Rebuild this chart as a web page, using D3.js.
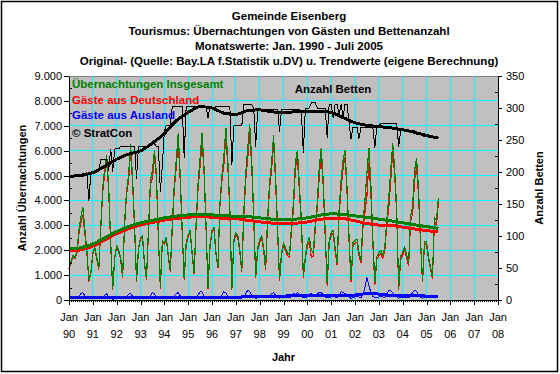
<!DOCTYPE html>
<html>
<head>
<meta charset="utf-8">
<script src="https://cdn.jsdelivr.net/npm/d3@7"></script>
<style>
  body { margin: 0; background: #fff; }
  svg { display: block; font-family: "Liberation Sans", Arial, sans-serif; }
</style>
</head>
<body>
<svg id="chart"></svg>
<script>
// Monatswerte Jan 1990 - Jul 2005 (eine Zeile pro Jahr)
var insgesamt = [
  1300,1550,1800,1700,1950,2800,3350,3700,2800,2000,800,1100,
  1900,2100,1700,1250,2950,4500,5300,5800,4500,2300,450,1700,
  2200,2000,1700,950,3100,4400,5000,6250,4900,3000,800,2100,
  2500,2600,1500,850,2800,4800,5200,6000,5100,2600,500,2400,
  2300,2500,1800,1200,3000,4600,5600,6700,5000,2800,850,2300,
  2600,2800,1900,1100,3100,4700,5700,6700,5300,3000,500,2200,
  2800,2900,1900,1350,3900,5000,5800,6900,5500,3650,450,2400,
  2700,2600,2000,1200,3500,5100,6100,7050,5600,3400,950,2100,
  2400,2600,2100,1300,3300,4700,5500,6600,5000,2900,850,1900,
  2300,2100,1900,1800,2900,3900,5550,6000,4600,3200,1000,1750,
  2300,2500,2000,1900,3000,3900,5300,6100,4800,2700,650,2400,
  2700,2800,2100,1500,3600,4800,5600,6000,4500,2500,800,2300,
  2400,2450,1900,1600,3100,4000,5100,6100,4600,2400,700,1750,
  1900,2000,1800,2100,3200,4100,5200,6300,5200,3600,480,1750,
  1900,2150,1800,1480,3350,3750,5200,5700,4400,2400,800,2350,
  2350,1750,1350,950,3300,3200,4100
];

var deutschland = [
  1250,1490,1740,1650,1880,2680,3100,3400,2650,1920,760,1050,
  1850,2040,1640,1210,2880,4380,5100,5550,4370,2230,420,1650,
  2140,1930,1640,910,3020,4270,4780,5970,4750,2920,760,2040,
  2440,2530,1440,810,2710,4650,4900,5760,4960,2520,460,2340,
  2240,2430,1740,1150,2910,4450,5350,6400,4840,2720,810,2240,
  2530,2720,1830,1050,3000,4500,5370,6380,5130,2910,460,2130,
  2730,2820,1830,1300,3800,4800,5470,6620,5350,3560,410,2330,
  2620,2510,1920,1140,3350,4850,5700,6700,5400,3290,890,2010,
  2300,2490,2000,1220,3180,4520,5250,6310,4800,2780,780,1800,
  2190,1980,1790,1710,2750,3620,5350,5700,4380,3070,920,1640,
  2180,2360,1720,1770,2850,3680,4980,5800,4600,2580,570,2290,
  2580,2670,1980,1410,3440,4470,5300,5750,4320,2390,730,2200,
  2280,2320,1780,1500,2900,3500,4200,5520,4300,2250,610,1630,
  1780,1870,1680,2000,3020,3700,4820,6000,5000,3480,410,1650,
  1790,2030,1690,1390,3190,3450,4800,5350,4200,2290,730,2250,
  2250,1640,1250,860,3170,3000,3920
];

var ausland = [
  50,60,60,50,70,120,250,300,150,80,40,50,
  50,60,60,40,70,120,200,250,130,70,30,50,
  60,70,60,40,80,130,220,280,150,80,40,60,
  60,70,60,40,90,150,300,240,140,80,40,60,
  60,70,60,50,90,150,250,300,160,80,40,60,
  70,80,70,50,100,200,330,320,170,90,40,70,
  70,80,70,50,100,200,330,280,150,90,40,70,
  80,90,80,60,150,250,400,350,200,110,60,90,
  100,110,100,80,120,180,250,290,200,120,70,100,
  110,120,110,90,150,280,200,300,220,130,80,110,
  120,140,280,130,150,220,320,300,200,120,80,110,
  120,130,120,90,160,330,300,250,180,110,70,100,
  120,130,120,100,200,500,900,580,300,150,90,120,
  120,130,120,100,180,400,380,300,200,120,70,100,
  110,120,110,90,160,300,400,350,200,110,70,100,
  100,110,100,90,130,200,180
];

var betten = [
  193,193,193,193,193,193,193,193,196,199,155,199,
  199,199,201,203,219,219,219,219,203,236,200,236,
  236,236,240,240,240,240,240,240,240,240,190,240,
  240,240,240,240,240,244,244,244,240,240,170,210,
  263,273,273,273,302,303,303,303,303,303,222,303,
  303,303,303,303,303,303,303,303,303,303,284,303,
  300,300,302,303,303,303,303,303,303,303,212,272,
  272,272,272,272,306,306,306,306,306,300,240,298,
  298,298,298,298,298,298,298,298,298,298,264,298,
  297,297,297,297,297,297,297,297,297,294,230,300,
  300,300,308,308,308,300,300,300,300,300,254,306,
  306,285,306,306,288,306,287,306,306,277,252,270,
  270,270,252,270,270,270,270,270,270,270,238,272,
  272,276,276,276,276,276,276,276,276,276,240,265,
  265,265,265,265,265,265,265,258,258,258,258,255,
  255,255,255,255,253,253,252
];

// Trendwerte, jeweils Januar und Juli (Jan 90 ... Jul 05)
var trendInsgesamt = [2050,2100,2250,2500,2750,2950,3100,3200,3300,3370,3420,3450,3420,3380,3370,3350,
                      3300,3250,3220,3250,3300,3400,3460,3440,3380,3320,3250,3180,3100,3020,2950,2880];
var trendDeutschland = [1970,2015,2165,2415,2665,2860,3010,3110,3210,3275,3325,3355,3325,3280,3270,3200,
                        3140,3090,3060,3085,3135,3230,3290,3270,3180,3070,3010,3000,2930,2855,2790,2730];
var trendAusland = [80,85,85,85,85,90,90,90,90,95,95,95,95,100,100,150,
                    160,160,160,165,165,170,170,170,200,250,240,180,170,165,160,150];
var trendBetten = [193,195,199,209,220,228,233,245,260,280,293,302,300,292,290,296,
                   297,294,293,294,294,295,293,285,277,273,271,269,266,262,257,253];

var yearLabels = ['90','91','92','93','94','95','96','97','98','99','00','01','02','03','04','05','06','07','08'];
var leftTicks = [0,1000,2000,3000,4000,5000,6000,7000,8000,9000];
var rightTicks = [0,50,100,150,200,250,300,350];

var titleLines = [
  'Gemeinde Eisenberg',
  'Tourismus: \u00dcbernachtungen von G\u00e4sten und Bettenanzahl',
  'Monatswerte: Jan. 1990 - Juli 2005',
  'Original- (Quelle: Bay.LA f.Statistik u.DV) u. Trendwerte (eigene Berechnung)'
];

var svgWidth = 560,
    svgHeight = 374,
    plotLeft = 69, plotRight = 498, plotTop = 76, plotBottom = 300;

var svg = d3.select('#chart')
    .attr('width', svgWidth)
    .attr('height', svgHeight);

svg.append('rect')
    .attr('x', 1.5).attr('y', 1.5)
    .attr('width', svgWidth - 4).attr('height', svgHeight - 4)
    .attr('fill', '#fff').attr('stroke', '#000').attr('stroke-width', 1.5);

var x = d3.scaleLinear().domain([0, 216]).range([plotLeft, plotRight]);
var yLeft = d3.scaleLinear().domain([0, 9000]).range([plotBottom, plotTop]);
var yRight = d3.scaleLinear().domain([0, 350]).range([plotBottom, plotTop]);

var de = d3.formatLocale({decimal: ',', thousands: '.', grouping: [3], currency: ['', ' \u20ac']});
var fmt = de.format(',');

// plot area
svg.append('rect')
    .attr('x', plotLeft).attr('y', plotTop)
    .attr('width', plotRight - plotLeft).attr('height', plotBottom - plotTop)
    .attr('fill', '#c0c0c0').attr('stroke', '#808080')
    .attr('shape-rendering', 'crispEdges');

var grid = svg.append('g')
    .attr('stroke', '#00ffff')
    .attr('shape-rendering', 'crispEdges');

grid.selectAll('.h')
  .data(leftTicks.slice(1, -1))
  .enter().append('line')
    .attr('x1', plotLeft).attr('x2', plotRight)
    .attr('y1', function(d) { return yLeft(d); })
    .attr('y2', function(d) { return yLeft(d); });

grid.selectAll('.v')
  .data(d3.range(1, yearLabels.length - 1))
  .enter().append('line')
    .attr('y1', plotTop).attr('y2', plotBottom)
    .attr('x1', function(d) { return x(d * 12); })
    .attr('x2', function(d) { return x(d * 12); });

// lines
function monthly(scale) {
  return d3.line()
    .x(function(d, i) { return x(i); })
    .y(function(d) { return scale(d); });
}
function trend(scale) {
  return d3.line()
    .x(function(d, i) { return x(i * 6); })
    .y(function(d) { return scale(d); })
    .curve(d3.curveMonotoneX);
}

var series = [
  {values: ausland, gen: monthly(yLeft), color: '#0000ff', width: 1},
  {values: trendAusland, gen: trend(yLeft), color: '#0000ff', width: 3},
  {values: deutschland, gen: monthly(yLeft), color: '#ff0000', width: 1.2},
  {values: insgesamt, gen: monthly(yLeft), color: '#008000', width: 1.2},
  {values: trendDeutschland, gen: trend(yLeft), color: '#ff0000', width: 3},
  {values: trendInsgesamt, gen: trend(yLeft), color: '#008000', width: 3},
  {values: betten, gen: monthly(yRight), color: '#000000', width: 1},
  {values: trendBetten, gen: trend(yRight), color: '#000000', width: 3}
];

svg.append('g').selectAll('path')
  .data(series)
  .enter().append('path')
    .attr('d', function(d) { return d.gen(d.values); })
    .attr('fill', 'none')
    .attr('stroke', function(d) { return d.color; })
    .attr('stroke-width', function(d) { return d.width; })
    .attr('stroke-linejoin', 'round')
    .attr('shape-rendering', 'crispEdges');

// axes
function styleAxis(g) {
  g.selectAll('path, line').attr('stroke', '#000').attr('shape-rendering', 'crispEdges');
  g.selectAll('text').attr('fill', '#000').style('font-size', '11px')
    .style('font-family', '"Liberation Sans", Arial, sans-serif');
}

svg.append('g')
    .attr('transform', 'translate(' + plotLeft + ',0)')
    .call(d3.axisLeft(yLeft).tickValues(leftTicks).tickSize(5).tickSizeOuter(0).tickPadding(2).tickFormat(fmt))
    .call(styleAxis);

svg.append('g')
    .attr('transform', 'translate(' + plotLeft + ',0)')
    .call(d3.axisRight(yLeft).tickValues(d3.range(500, 9000, 1000)).tickSize(3).tickSizeOuter(0).tickFormat(''))
    .call(styleAxis);

svg.append('g')
    .attr('transform', 'translate(' + plotRight + ',0)')
    .call(d3.axisRight(yRight).tickValues(rightTicks).tickSize(4).tickSizeOuter(0).tickPadding(4))
    .call(styleAxis);

svg.append('g')
    .attr('transform', 'translate(' + plotRight + ',0)')
    .call(d3.axisLeft(yRight).tickValues(d3.range(25, 350, 50)).tickSize(3).tickSizeOuter(0).tickFormat(''))
    .call(styleAxis);

svg.append('g')
    .attr('transform', 'translate(0,' + plotBottom + ')')
    .call(d3.axisBottom(x).tickValues(d3.range(0, 217)).tickSize(2).tickSizeOuter(0).tickFormat(''))
    .call(styleAxis);

svg.append('g')
    .attr('transform', 'translate(0,' + plotBottom + ')')
    .call(d3.axisBottom(x).tickValues(d3.range(0, 217, 12)).tickSize(5).tickSizeOuter(0).tickFormat(''))
    .call(styleAxis);

var xl = svg.append('g')
    .attr('font-size', '11px')
    .attr('text-anchor', 'middle')
  .selectAll('g')
  .data(yearLabels)
  .enter().append('g')
    .attr('transform', function(d, i) { return 'translate(' + x(i * 12) + ',0)'; });
xl.append('text').attr('y', 321).text('Jan');
xl.append('text').attr('y', 338).text(function(d) { return d; });

// titles
svg.append('g')
    .attr('font-size', '11.5px')
    .attr('font-weight', 'bold')
    .attr('text-anchor', 'middle')
  .selectAll('text')
  .data(titleLines)
  .enter().append('text')
    .attr('x', 289)
    .attr('y', function(d, i) { return 20 + i * 15; })
    .text(function(d) { return d; });

svg.append('text')
    .attr('x', (plotLeft + plotRight) / 2).attr('y', 361)
    .attr('text-anchor', 'middle').attr('font-size', '11px').attr('font-weight', 'bold')
    .text('Jahr');

svg.append('text')
    .attr('transform', 'translate(22,' + (plotTop + plotBottom) / 2 + ') rotate(-90)')
    .attr('text-anchor', 'middle').attr('dy', '0.35em')
    .attr('font-size', '11px').attr('font-weight', 'bold')
    .text('Anzahl \u00dcbernachtungen');

svg.append('text')
    .attr('transform', 'translate(539,' + (plotTop + plotBottom) / 2 + ') rotate(-90)')
    .attr('text-anchor', 'middle').attr('dy', '0.35em')
    .attr('font-size', '11px').attr('font-weight', 'bold')
    .text('Anzahl Betten');

// legend inside plot
var legend = [
  {text: '\u00dcbernachtungen Insgesamt', color: '#008000', y: 88},
  {text: 'G\u00e4ste aus Deutschland', color: '#ff0000', y: 104},
  {text: 'G\u00e4ste aus Ausland', color: '#0000ff', y: 119},
  {text: '\u00a9 StratCon', color: '#000000', y: 137}
];
svg.append('g')
    .attr('font-size', '11.5px')
    .attr('font-weight', 'bold')
  .selectAll('text')
  .data(legend)
  .enter().append('text')
    .attr('x', 72)
    .attr('y', function(d) { return d.y; })
    .attr('fill', function(d) { return d.color; })
    .text(function(d) { return d.text; });

svg.append('text')
    .attr('x', 333).attr('y', 93)
    .attr('text-anchor', 'middle').attr('font-size', '11.5px').attr('font-weight', 'bold')
    .text('Anzahl Betten');
</script>
</body>
</html>
